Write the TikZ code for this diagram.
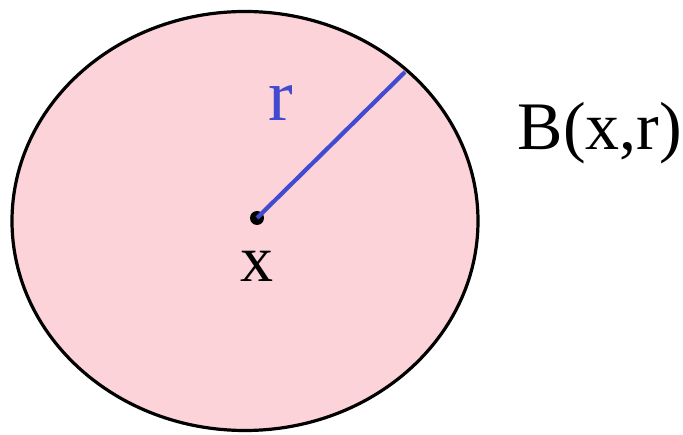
\documentclass[tikz,border=0pt]{standalone}
\usepackage{fontspec}
\setmainfont{Liberation Serif}
\usepackage{xcolor}
\definecolor{ballpink}{RGB}{251,211,216}
\definecolor{radblue}{RGB}{66,74,208}

\begin{document}
\begin{tikzpicture}[x=1pt, y=-1pt, every node/.style={inner sep=0pt, anchor=base}]
        \useasboundingbox (0,0) rectangle (683,435);
        % the ball
        \draw[line width=3.2pt, fill=ballpink] (245,221) ellipse [x radius=233, y radius=209.5];
        \coordinate (edge) at (405,72);
        \node[circle, fill=black, minimum size=14pt] (centre) at (257,218) {};
        \draw[line width=4.2pt, radblue] (centre.center) -- (edge);
        % labels
        \node[font=\fontsize{74}{80}\selectfont, text=radblue] (rlab) at (281,121) {r};
        \node[font=\fontsize{66}{72}\selectfont] (xlab) at (257,282) {x};
        \node[font=\fontsize{68}{76}\selectfont] (ball) at (600,150) {B(x,r)};
    \end{tikzpicture}
\end{document}
